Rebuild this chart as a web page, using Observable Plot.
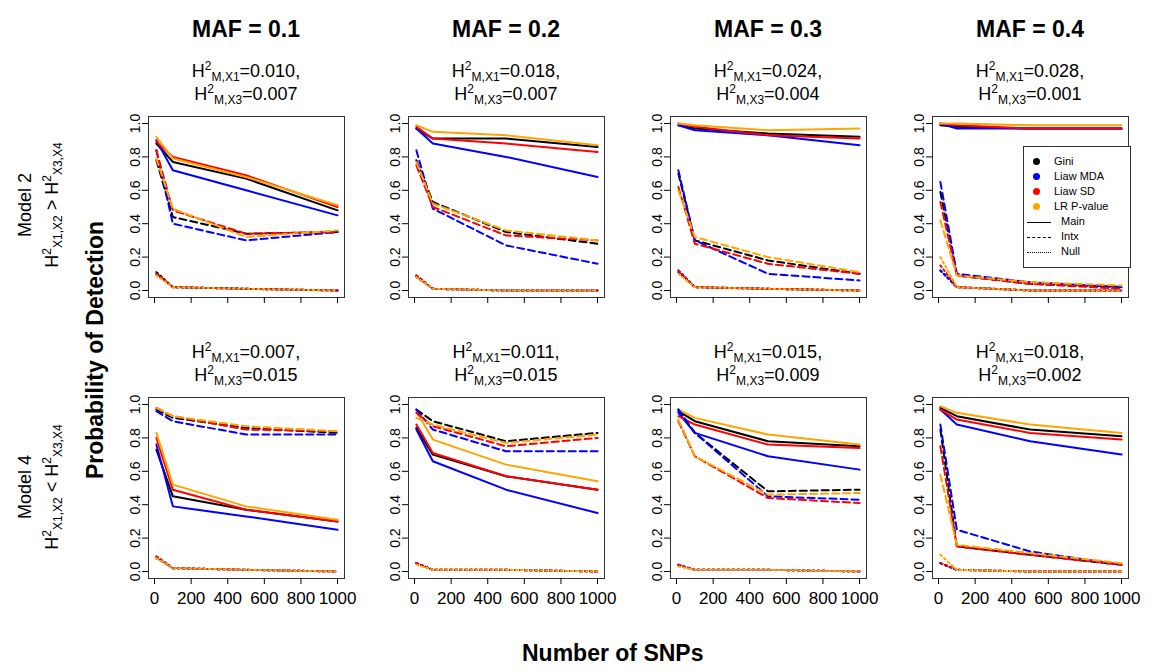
<!DOCTYPE html>
<html><head><meta charset="utf-8">
<script src="https://cdn.jsdelivr.net/npm/d3@7"></script>
<script src="https://cdn.jsdelivr.net/npm/@observablehq/plot@0.6"></script>
<style>
body{margin:0;background:#fff;font-family:"Liberation Sans",Arial,sans-serif;}
#root{position:relative;width:1152px;height:672px;overflow:hidden;}
.abs{position:absolute;white-space:nowrap;}
.maf{font-weight:bold;font-size:23px;transform:translateX(-50%);}
.sub{font-size:18px;line-height:23px;text-align:center;transform:translateX(-50%);}
sup,sub{font-size:12px;line-height:0;}
sup{vertical-align:7px;} sub{vertical-align:-4px;}
.rot{transform:translate(-50%,-50%) rotate(-90deg);font-size:18px;text-align:center;}
.big{font-weight:bold;font-size:23px;}
</style></head><body><div id="root"></div>
<script>
const snps=[10,100,500,1000];
const methods=["Gini","Liaw MDA","Liaw SD","LR P-value"];
const colors=["#000000","#0000FF","#FF0000","#FFA500"];
const mafLabels=["MAF = 0.1","MAF = 0.2","MAF = 0.3","MAF = 0.4"];
const h2Top=[["0.010","0.007"],["0.018","0.007"],["0.024","0.004"],["0.028","0.001"]];
const h2Bot=[["0.007","0.015"],["0.011","0.015"],["0.015","0.009"],["0.018","0.002"]];
// [Gini, MDA, SD, LR], each at snps
const p1Main=[[0.88,0.77,0.67,0.48],[0.90,0.72,0.60,0.45],[0.89,0.80,0.69,0.50],[0.92,0.79,0.68,0.51]];
const p1Intx=[[0.78,0.44,0.34,0.35],[0.84,0.40,0.30,0.35],[0.84,0.48,0.34,0.35],[0.79,0.49,0.32,0.36]];
const p1Null=[[0.11,0.02,0.01,0.00],[0.10,0.02,0.01,0.00],[0.10,0.02,0.01,0.00],[0.09,0.02,0.01,0.00]];
const p2Main=[[0.97,0.91,0.91,0.86],[0.97,0.88,0.80,0.68],[0.98,0.91,0.88,0.83],[0.99,0.95,0.93,0.87]];
const p2Intx=[[0.78,0.53,0.35,0.28],[0.84,0.49,0.27,0.16],[0.75,0.50,0.33,0.30],[0.77,0.52,0.36,0.30]];
const p2Null=[[0.09,0.01,0.00,0.00],[0.08,0.01,0.00,0.00],[0.09,0.01,0.00,0.00],[0.08,0.01,0.00,0.00]];
const p3Main=[[0.99,0.97,0.94,0.92],[0.99,0.96,0.93,0.87],[1.00,0.98,0.93,0.91],[1.00,0.99,0.96,0.97]];
const p3Intx=[[0.70,0.30,0.18,0.10],[0.72,0.30,0.10,0.06],[0.62,0.28,0.16,0.10],[0.60,0.32,0.20,0.11]];
const p3Null=[[0.12,0.02,0.01,0.00],[0.11,0.02,0.01,0.00],[0.12,0.02,0.01,0.00],[0.10,0.02,0.01,0.00]];
const p4Main=[[0.99,0.98,0.97,0.97],[1.00,0.97,0.97,0.97],[1.00,0.99,0.97,0.97],[1.00,1.00,0.99,0.99]];
const p4Intx=[[0.59,0.09,0.04,0.02],[0.65,0.10,0.05,0.02],[0.53,0.09,0.04,0.01],[0.42,0.09,0.05,0.03]];
const p4Null=[[0.12,0.02,0.00,0.00],[0.12,0.02,0.00,0.00],[0.15,0.02,0.00,0.00],[0.20,0.02,0.00,0.00]];
const p5Main=[[0.73,0.45,0.37,0.30],[0.76,0.39,0.33,0.25],[0.80,0.49,0.37,0.30],[0.83,0.52,0.39,0.31]];
const p5Intx=[[0.97,0.92,0.86,0.83],[0.96,0.90,0.82,0.82],[0.98,0.93,0.85,0.84],[0.98,0.93,0.87,0.84]];
const p5Null=[[0.09,0.02,0.01,0.00],[0.08,0.02,0.01,0.00],[0.09,0.02,0.01,0.00],[0.08,0.02,0.01,0.00]];
const p6Main=[[0.86,0.70,0.57,0.49],[0.85,0.66,0.49,0.35],[0.88,0.71,0.57,0.49],[0.96,0.79,0.64,0.54]];
const p6Intx=[[0.97,0.90,0.78,0.83],[0.97,0.85,0.72,0.72],[0.95,0.87,0.75,0.80],[0.92,0.88,0.77,0.82]];
const p6Null=[[0.05,0.01,0.01,0.00],[0.05,0.01,0.01,0.00],[0.05,0.01,0.01,0.00],[0.04,0.01,0.01,0.00]];
const p7Main=[[0.96,0.90,0.78,0.75],[0.95,0.83,0.69,0.61],[0.93,0.88,0.76,0.74],[0.97,0.92,0.82,0.76]];
const p7Intx=[[0.97,0.83,0.48,0.49],[0.97,0.83,0.45,0.43],[0.90,0.69,0.44,0.41],[0.91,0.69,0.46,0.47]];
const p7Null=[[0.04,0.01,0.01,0.00],[0.04,0.01,0.01,0.00],[0.04,0.01,0.01,0.00],[0.03,0.01,0.01,0.00]];
const p8Main=[[0.98,0.93,0.85,0.81],[0.97,0.88,0.78,0.70],[0.97,0.91,0.83,0.79],[0.99,0.95,0.88,0.83]];
const p8Intx=[[0.85,0.15,0.10,0.04],[0.88,0.25,0.12,0.04],[0.75,0.15,0.10,0.04],[0.58,0.16,0.11,0.05]];
const p8Null=[[0.05,0.01,0.00,0.00],[0.05,0.01,0.00,0.00],[0.05,0.01,0.00,0.00],[0.10,0.01,0.00,0.00]];

const panels=[[p1Main,p1Intx,p1Null],[p2Main,p2Intx,p2Null],[p3Main,p3Intx,p3Null],[p4Main,p4Intx,p4Null],
 [p5Main,p5Intx,p5Null],[p6Main,p6Intx,p6Null],[p7Main,p7Intx,p7Null],[p8Main,p8Intx,p8Null]];
const dashes=[null,"7,4","2,3"];
const root=document.getElementById("root");
const boxL=[148,408,670,932], boxT=[116,397], BW=196, BH=181;
const ML=40, MT=2, MR=2, MB=40;

function add(html,cls,x,y){const d=document.createElement("div");d.className="abs "+cls;d.innerHTML=html;d.style.left=x+"px";d.style.top=y+"px";root.appendChild(d);return d;}

panels.forEach((pd,i)=>{
  const col=i%4,row=Math.floor(i/4);
  const rows=[];
  pd.forEach((series,t)=>series.forEach((vals,m)=>vals.forEach((v,k)=>rows.push({x:snps[k],y:v,m,t}))));
  const marks=[Plot.frame({stroke:"#333"})];
  for(let t=0;t<3;t++)for(let m=0;m<4;m++){
    marks.push(Plot.line(rows.filter(r=>r.t===t&&r.m===m),{x:"x",y:"y",stroke:colors[m],strokeWidth:2,strokeDasharray:dashes[t]}));
  }
  marks.push(Plot.axisY({ticks:[0,0.2,0.4,0.6,0.8,1.0],tickFormat:d3.format(".1f"),tickSize:6,tickRotate:-90,fontSize:14,tickPadding:3,label:null}));
  marks.push(Plot.axisX({ticks:[0,200,400,600,800,1000],tickFormat:row===1?(d=>String(d)):(()=> ""),tickSize:6,fontSize:17,tickPadding:7,label:null}));
  const svg=Plot.plot({width:BW+ML+MR,height:BH+MT+MB,marginLeft:ML,marginRight:MR,marginTop:MT,marginBottom:MB,
    x:{domain:[-33,1038]},y:{domain:[-0.042,1.042]},style:{fontFamily:"Liberation Sans, Arial",color:"#000",background:"transparent",overflow:"visible"},marks});
  svg.style.position="absolute";svg.style.left=(boxL[col]-ML)+"px";svg.style.top=(boxT[row]-MT)+"px";
  root.appendChild(svg);
  const h=row===0?h2Top[col]:h2Bot[col];
  add(`H<sup>2</sup><sub>M,X1</sub>=${h[0]},<br>H<sup>2</sup><sub>M,X3</sub>=${h[1]}`,"sub",boxL[col]+BW/2,boxT[row]-56);
  if(row===0) add(mafLabels[col],"maf",boxL[col]+BW/2,16);
});
// legend
const lg=document.createElement("div");lg.className="abs";
lg.style.cssText+="left:1023px;top:146px;width:106px;height:120px;border:1px solid #333;background:#fff;font-size:11px;";
let lh="";
methods.forEach((m,i)=>{lh+=`<div style="position:absolute;left:9px;top:${8+i*15}px;"><span style="display:inline-block;width:7px;height:7px;border-radius:50%;background:${colors[i]};margin-right:14px;"></span>${m}</div>`;});
["Main","Intx","Null"].forEach((m,i)=>{lh+=`<div style="position:absolute;left:3px;top:${68+i*15}px;"><span style="display:inline-block;width:24px;border-top:1px ${["solid","dashed","dotted"][i]} #000;vertical-align:middle;margin-right:10px;"></span>${m}</div>`;});
lg.innerHTML=lh;root.appendChild(lg);
add("Model 2","rot",25,205);
add("H<sup>2</sup><sub>X1,X2</sub> &gt; H<sup>2</sup><sub>X3,X4</sub>","rot",52,205);
add("Model 4","rot",25,487);
add("H<sup>2</sup><sub>X1,X2</sub> &lt; H<sup>2</sup><sub>X3,X4</sub>","rot",52,487);
add("Probability of Detection","rot big",95,350);
add("Number of SNPs","big",522,640);
</script></body></html>
